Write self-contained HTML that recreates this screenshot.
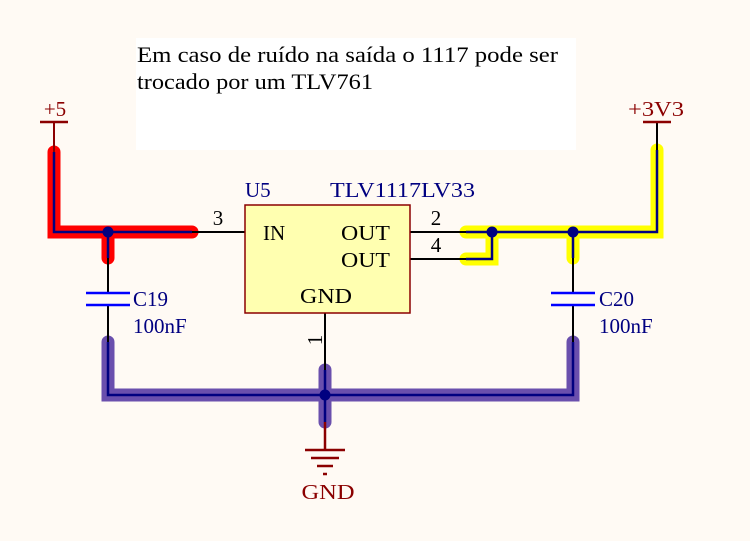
<!DOCTYPE html>
<html><head><style>body{margin:0;background:#fffaf4}svg{display:block}</style></head><body>
<svg width="750" height="541" viewBox="0 0 750 541" xmlns="http://www.w3.org/2000/svg" font-family="Liberation Serif, serif">
<rect width="750" height="541" fill="#fffaf4"/>
<rect x="136" y="38" width="440" height="112" fill="#ffffff"/>
<text x="137" y="62" font-size="22" fill="#000" textLength="421" lengthAdjust="spacingAndGlyphs">Em caso de ruído na saída o 1117 pode ser</text>
<text x="137" y="89" font-size="22" fill="#000" textLength="236" lengthAdjust="spacingAndGlyphs">trocado por um TLV761</text>
<!-- highlights -->
<g fill="none" stroke-linecap="round" stroke-linejoin="miter" stroke-width="13">
<path d="M54 152 V232 H192 M108 232 V258" stroke="#ff0000"/>
<path d="M466 232 H657 V150 M466 259 H492 V232 M573 232 V258" stroke="#ffff00"/>
<path d="M108 342 V395 H573 V342 M325 370 V422" stroke="#6a4fad"/>
</g>
<g fill="none" stroke-width="2.5">
<path d="M54 152 V232 H192 M108 232 V258" stroke="#000080"/>
<path d="M466 232 H657 V150 M466 259 H492 V232 M573 232 V258" stroke="#000080"/>
<path d="M108 342 V395 H573 V342 M325 370 V422" stroke="#000080"/>
</g>
<g stroke="#000" stroke-width="2" fill="none">
<path d="M192 232 H245 M410 232 H466 M410 259 H466 M325 313 V370"/>
<path d="M108 258 V293 M108 305 V342 M573 258 V293 M573 305 V342"/>
<path d="M657 122 V150"/>
</g>
<path d="M54 122 V152" stroke="#8b0000" stroke-width="2"/>
<path d="M40 122 H68" stroke="#8b0000" stroke-width="2.5"/>
<text x="55" y="116" font-size="21" fill="#8b0000" text-anchor="middle">+5</text>
<path d="M643 122 H671" stroke="#8b0000" stroke-width="2.5"/>
<text x="656" y="116" font-size="21" fill="#8b0000" text-anchor="middle" textLength="56" lengthAdjust="spacingAndGlyphs">+3V3</text>
<g stroke="#0000ff" stroke-width="2.5">
<path d="M86 293 H130 M86 305 H130 M551 293 H595 M551 305 H595"/>
</g>
<circle cx="108" cy="232" r="5.5" fill="#000080"/>
<circle cx="492" cy="232" r="5.5" fill="#000080"/>
<circle cx="573" cy="232" r="5.5" fill="#000080"/>
<circle cx="325" cy="395" r="5.5" fill="#000080"/>
<rect x="245" y="205" width="165" height="108" fill="#ffffb0" stroke="#8b0000" stroke-width="1.5"/>
<text x="245" y="197" font-size="21" fill="#000080">U5</text>
<text x="330" y="197" font-size="21" fill="#000080" textLength="145" lengthAdjust="spacingAndGlyphs">TLV1117LV33</text>
<text x="263" y="240" font-size="21" fill="#000">IN</text>
<text x="341" y="240" font-size="21" fill="#000" textLength="49" lengthAdjust="spacingAndGlyphs">OUT</text>
<text x="341" y="267" font-size="21" fill="#000" textLength="49" lengthAdjust="spacingAndGlyphs">OUT</text>
<text x="300" y="303" font-size="21" fill="#000" textLength="52" lengthAdjust="spacingAndGlyphs">GND</text>
<text x="218" y="225" font-size="21" fill="#000" text-anchor="middle">3</text>
<text x="436" y="225" font-size="21" fill="#000" text-anchor="middle">2</text>
<text x="436" y="252" font-size="21" fill="#000" text-anchor="middle">4</text>
<text x="0" y="0" font-size="21" fill="#000" text-anchor="middle" transform="translate(322 340) rotate(-90)">1</text>
<text x="133" y="306" font-size="21" fill="#000080">C19</text>
<text x="133" y="333" font-size="21" fill="#000080">100nF</text>
<text x="599" y="306" font-size="21" fill="#000080">C20</text>
<text x="599" y="333" font-size="21" fill="#000080">100nF</text>
<g stroke="#8b0000" stroke-width="2.5">
<path d="M325 422 V450 M305 450 H345 M311 458 H339 M317 466 H333 M323 474 H327"/>
</g>
<text x="328" y="499" font-size="21" fill="#8b0000" text-anchor="middle" textLength="53" lengthAdjust="spacingAndGlyphs">GND</text>
</svg>
</body></html>
